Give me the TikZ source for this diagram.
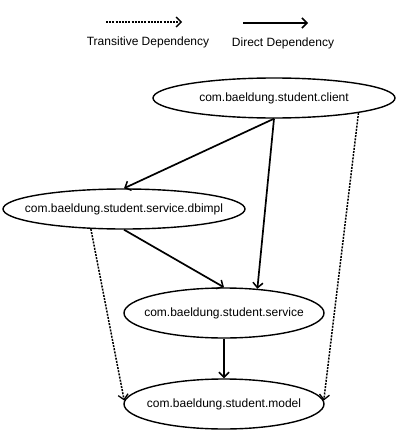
\documentclass[tikz,border=0pt]{standalone}
\usepackage{fontspec}
\setmainfont{Liberation Sans}
\usetikzlibrary{shapes.geometric,arrows.meta}
\begin{document}
\begin{tikzpicture}[x=1pt,y=-1pt,
  every node/.style={font=\fontsize{12}{14}\selectfont},
  mod/.style={draw,ellipse,line width=1.4pt,inner sep=0pt},
  direct/.style={line width=1.7pt,-{Straight Barb[length=5pt,width=10pt,line width=1.5pt]}},
  trans/.style={line width=1.5pt,dash pattern=on 2pt off 1.2pt,-{Straight Barb[length=5pt,width=10pt,line width=1.3pt,sep=0pt]}},
  lbl/.style={inner sep=0pt}]
\useasboundingbox (0,0) rectangle (406,436);
% legend
\coordinate (t1) at (106,22);
\coordinate (t2) at (182,22);
\coordinate (d1) at (243,23);
\coordinate (d2) at (308,23);
\draw[trans] (t1) -- (t2);
\draw[direct] (d1) -- (d2);
\node[lbl] (tl) at (148,42) {Transitive Dependency};
\node[lbl] (dl) at (283,43) {Direct Dependency};
% modules
\node[mod,minimum width=242pt,minimum height=40pt] (client) at (274,98) {};
\node[lbl] (clientt) at (client) {com.baeldung.student.client};
\node[mod,minimum width=242pt,minimum height=40pt] (dbimpl) at (124,209) {};
\node[lbl] (dbimplt) at (dbimpl) {com.baeldung.student.service.dbimpl};
\node[mod,minimum width=200pt,minimum height=50pt] (service) at (224,313) {};
\node[lbl] (servicet) at (service) {com.baeldung.student.service};
\node[mod,minimum width=200pt,minimum height=50pt] (model) at (224,404) {};
\node[lbl] (modelt) at (model) {com.baeldung.student.model};
% connectors
\draw[direct] (client.south) -- (dbimpl.north);
\draw[direct] (client.south) -- (service.36);
\draw[direct] (dbimpl.south) -- (service.north);
\draw[direct] (service.south) -- (model.north);
\draw[trans] (dbimpl.211) -- (model.178);
\draw[trans] (client.-10) -- (model.2);
\end{tikzpicture}
\end{document}
